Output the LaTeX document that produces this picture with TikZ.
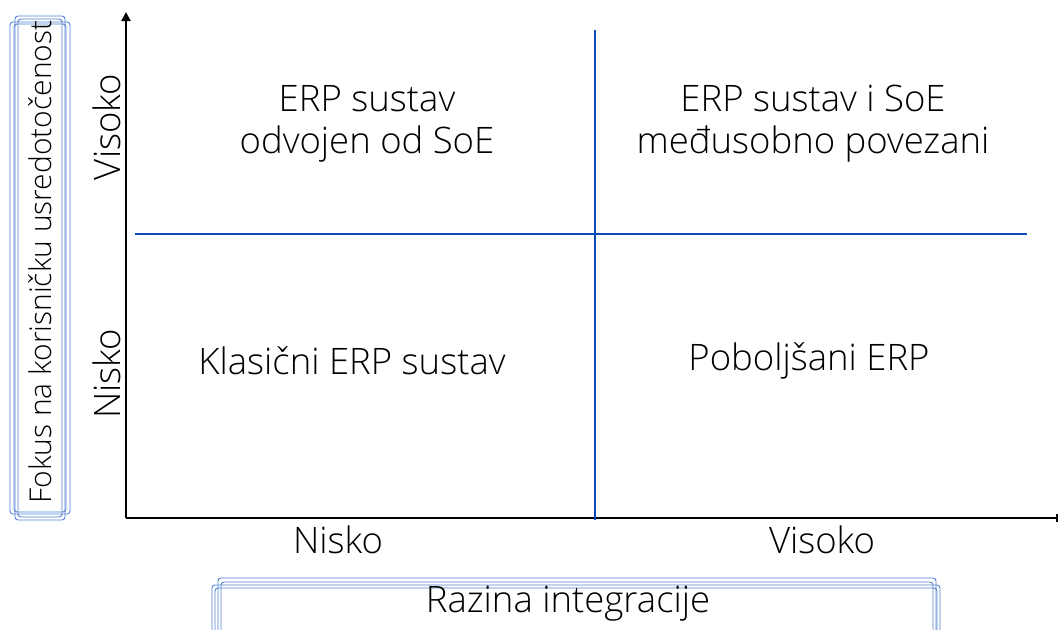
\documentclass[tikz,border=0pt]{standalone}
\usepackage{fontspec}
\IfFontExistsTF{Open Sans Light}{\setmainfont{Open Sans Light}}{\setmainfont{Open Sans}}
\usetikzlibrary{arrows.meta}
\definecolor{quad}{RGB}{15,75,180}
\definecolor{brk}{RGB}{80,130,210}
\tikzset{
  lbl/.style={font=\fontsize{36.5}{42}\selectfont, align=center, inner sep=0pt},
  axis/.style={line width=2.2pt, black},
  divider/.style={line width=2.8pt, quad},
  bracket/.style={line width=0.9pt, brk, rounded corners=3pt}
}
\begin{document}
\begin{tikzpicture}[x=1pt,y=-1pt]
\useasboundingbox (0,0) rectangle (1059,629);
% axes
\coordinate (o) at (126,518);
\coordinate (ytop) at (126,12);
\coordinate (xend) at (1058,518);
\draw[axis, -{Triangle[length=9pt,width=9pt]}] (o) -- (ytop);
\draw[axis, -{Bar[width=8pt]}] (o) -- (xend);
% dividers
\coordinate (vtop) at (595,30);
\coordinate (vbot) at (595,520);
\coordinate (hl) at (135,234);
\coordinate (hr) at (1027,234);
\draw[divider] (vtop) -- (vbot);
\draw[divider] (hl) -- (hr);
% quadrant texts
\node[lbl] (q1) at (367,124) {ERP sustav\\odvojen od SoE};
\node[lbl] (q2) at (813,124) {ERP sustav i SoE\\međusobno povezani};
\node[lbl] (q3) at (352,361) {Klasični ERP sustav};
\node[lbl] (q4) at (809,361) {Poboljšani ERP};
% y tick labels
\node[lbl, rotate=90] (yv) at (107,127) {Visoko};
\node[lbl, rotate=90] (yn) at (107,374) {Nisko};
% x tick labels
\node[lbl] (xn) at (338,540) {Nisko};
\node[lbl] (xv) at (822,540) {Visoko};
% left bracket
\draw[bracket] (10,22) rectangle (70,514);
\draw[bracket] (14,24) rectangle (66,512);
\draw[bracket] (15,16) rectangle (65,520);
\draw[bracket] (18,19) rectangle (62,517);
\node[lbl, font=\fontsize{30}{36}\selectfont, rotate=90] (ylab) at (40,262) {Fokus na korisničku usredotočenost};
% bottom bracket
\draw[bracket] (218,578) rectangle (936,640);
\draw[bracket] (221,582) rectangle (933,640);
\draw[bracket] (212,585) rectangle (940,640);
\draw[bracket] (215,588) rectangle (937,640);
\node[lbl] (xlab) at (568,604) {Razina integracije};
\end{tikzpicture}
\end{document}
